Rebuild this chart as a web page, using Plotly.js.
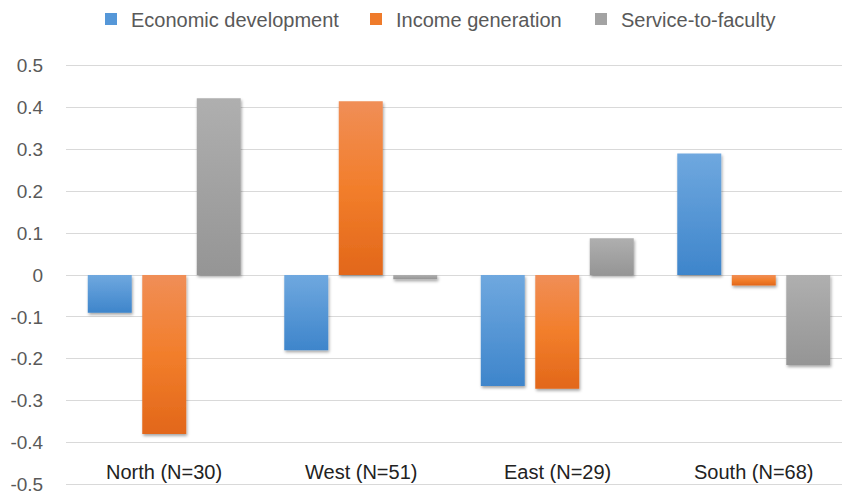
<!DOCTYPE html>
<html>
<head>
<meta charset="utf-8">
<script src="https://cdn.plot.ly/plotly-3.0.1.min.js"></script>
<style>
  html, body { margin: 0; padding: 0; background: #ffffff; }
  #chart { width: 842px; height: 496px; }
</style>
</head>
<body>
<svg width="0" height="0" style="position:absolute">
  <defs>
    <linearGradient id="gBlue" x1="0" y1="0" x2="0" y2="1">
      <stop offset="0" stop-color="#6fa8df"/>
      <stop offset="1" stop-color="#3e85cb"/>
    </linearGradient>
    <linearGradient id="gOrange" x1="0" y1="0" x2="0" y2="1">
      <stop offset="0" stop-color="#f08e57"/>
      <stop offset="0.5" stop-color="#f27e2b"/>
      <stop offset="1" stop-color="#e2671a"/>
    </linearGradient>
    <linearGradient id="gGray" x1="0" y1="0" x2="0" y2="1">
      <stop offset="0" stop-color="#afafaf"/>
      <stop offset="1" stop-color="#959595"/>
    </linearGradient>
    <filter id="barShadow" filterUnits="userSpaceOnUse" x="-2000" y="-2000" width="6000" height="6000">
      <feDropShadow dx="1" dy="2" stdDeviation="1.6" flood-color="#000000" flood-opacity="0.35"/>
    </filter>
  </defs>
</svg>
<div id="chart"></div>
<script>
// ---- data ----
var categories = ['North (N=30)', 'West (N=51)', 'East (N=29)', 'South (N=68)'];
var seriesNames = ['Economic development', 'Income generation', 'Service-to-faculty'];
var economicDevelopment = [-0.09, -0.18, -0.265, 0.29];
var incomeGeneration = [-0.38, 0.415, -0.272, -0.025];
var serviceToFaculty = [0.422, -0.01, 0.088, -0.215];
var yTickValues = [0.5, 0.4, 0.3, 0.2, 0.1, 0, -0.1, -0.2, -0.3, -0.4, -0.5];
var yTickLabels = ['0.5', '0.4', '0.3', '0.2', '0.1', '0', '-0.1', '-0.2', '-0.3', '-0.4', '-0.5'];

var solidColors = ['#5597d8', '#ef7b2b', '#a3a3a3'];
var gradientIds = ['gBlue', 'gOrange', 'gGray'];
var FONT = '"Liberation Sans", Arial, sans-serif';

var seriesValues = [economicDevelopment, incomeGeneration, serviceToFaculty];
var legendIds = ['legend', 'legend2', 'legend3'];

var traces = seriesValues.map(function (vals, i) {
  return {
    type: 'bar',
    name: seriesNames[i],
    x: categories,
    y: vals,
    marker: { color: solidColors[i], line: { width: 0 } },
    legend: legendIds[i],
    hoverinfo: 'x+y+name'
  };
});

var annotations = categories.map(function (c) {
  return {
    x: c, y: -0.47, xref: 'x', yref: 'y',
    text: c, showarrow: false,
    xanchor: 'center', yanchor: 'middle',
    font: { family: FONT, size: 20, color: '#222222' }
  };
});

function legendAt(px) {
  return {
    orientation: 'h',
    xref: 'container', yref: 'container',
    x: px / 842, y: 1 - 19 / 496,
    xanchor: 'left', yanchor: 'middle',
    bgcolor: 'rgba(0,0,0,0)', borderwidth: 0,
    font: { family: FONT, size: 20, color: '#595959' }
  };
}

var layout = {
  width: 842, height: 496,
  margin: { l: 66, r: 0, t: 64.3, b: 10.4, pad: 0 },
  paper_bgcolor: '#ffffff', plot_bgcolor: '#ffffff',
  font: { family: FONT, color: '#595959' },
  barmode: 'group',
  bargap: 0.168,
  bargroupgap: 0.193,
  showlegend: true,
  legend: legendAt(91),
  legend2: legendAt(356),
  legend3: legendAt(581),
  xaxis: {
    type: 'category',
    range: [-0.5, 3.449],
    showticklabels: false,
    showgrid: false, zeroline: false, showline: false,
    ticks: '', fixedrange: true
  },
  yaxis: {
    range: [-0.504, 0.504],
    tickmode: 'array',
    tickvals: yTickValues,
    ticktext: yTickLabels,
    tickfont: { family: FONT, size: 19, color: '#595959' },
    ticklabeloverflow: 'allow',
    ticks: 'outside', ticklen: 18, tickcolor: 'rgba(0,0,0,0)',
    showgrid: true, gridcolor: '#d9d9d9', gridwidth: 1,
    zeroline: true, zerolinecolor: '#d9d9d9', zerolinewidth: 1,
    showline: false, fixedrange: true
  },
  annotations: annotations
};

function applyShading(gd) {
  var traceGroups = gd.querySelectorAll('.barlayer .trace');
  traceGroups.forEach(function (g, i) {
    g.querySelectorAll('.point path').forEach(function (p) {
      p.style.fill = 'url(#' + gradientIds[i] + ')';
      p.style.filter = 'url(#barShadow)';
    });
  });
}

Plotly.newPlot('chart', traces, layout, { displayModeBar: false, staticPlot: true })
  .then(function (gd) { applyShading(gd); });
</script>
</body>
</html>
